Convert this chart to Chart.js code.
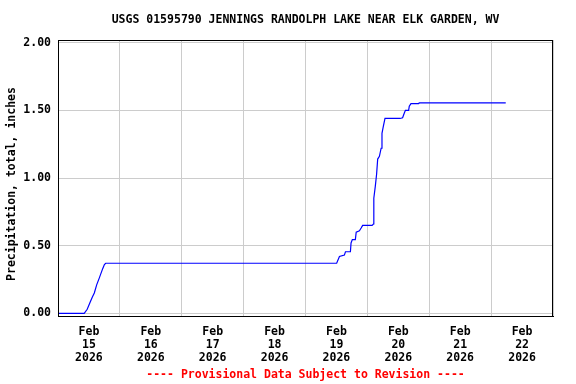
<!DOCTYPE html>
<html>
<head>
<meta charset="utf-8">
<script src="https://cdn.jsdelivr.net/npm/chart.js@4/dist/chart.umd.min.js"></script>
<style>
html,body{margin:0;padding:0;background:#fff;}
#wrap{width:576px;height:384px;position:relative;}
</style>
</head>
<body>
<div id="wrap"><canvas id="c" width="576" height="384"></canvas></div>
<script>
// ---- data ----
const chartTitle = 'USGS 01595790 JENNINGS RANDOLPH LAKE NEAR ELK GARDEN, WV';
const yAxisTitle = 'Precipitation, total, inches';
const footerText = '---- Provisional Data Subject to Revision ----';
const startTime = '2026-02-15T00:00';
const endTime = '2026-02-23T00:00';
const monthLabel = 'Feb';
const yearLabel = '2026';
const dayLabels = ['15','16','17','18','19','20','21','22'];
const yTickValues = [0, 0.5, 1.0, 1.5, 2.0];

const obsTimes = [
  '2026-02-15T00:00','2026-02-15T10:10','2026-02-15T11:20','2026-02-15T12:25',
  '2026-02-15T13:20','2026-02-15T14:05','2026-02-15T15:00','2026-02-15T16:00',
  '2026-02-15T17:20','2026-02-15T18:00','2026-02-15T18:30',
  '2026-02-19T12:05','2026-02-19T13:10','2026-02-19T15:05','2026-02-19T15:30',
  '2026-02-19T17:25','2026-02-19T17:40','2026-02-19T18:10','2026-02-19T19:20',
  '2026-02-19T19:40','2026-02-19T20:55','2026-02-19T21:35','2026-02-19T22:10',
  '2026-02-20T01:50','2026-02-20T02:20','2026-02-20T02:30','2026-02-20T03:05',
  '2026-02-20T03:35','2026-02-20T04:00','2026-02-20T04:40','2026-02-20T05:20',
  '2026-02-20T05:40','2026-02-20T06:10','2026-02-20T06:50','2026-02-20T12:40',
  '2026-02-20T13:40','2026-02-20T14:20','2026-02-20T14:45','2026-02-20T16:00',
  '2026-02-20T16:15','2026-02-20T16:55','2026-02-20T19:50','2026-02-20T20:10',
  '2026-02-22T05:40'
];
const precipValues = [
  0.00, 0.00, 0.03, 0.08,
  0.12, 0.15, 0.21, 0.26,
  0.33, 0.36, 0.37,
  0.37, 0.42, 0.43, 0.455,
  0.455, 0.52, 0.545, 0.545,
  0.60, 0.61, 0.63, 0.65,
  0.65, 0.66, 0.85, 0.94,
  1.03, 1.14, 1.16, 1.22,
  1.33, 1.38, 1.44, 1.44,
  1.445, 1.48, 1.50, 1.50,
  1.53, 1.55, 1.55, 1.555,
  1.555
];

// ---- build ----
const t0 = Date.parse(startTime + ':00Z');
const t1 = Date.parse(endTime + ':00Z');
const toDays = s => (Date.parse(s + ':00Z') - t0) / 86400000;
const spanDays = (t1 - t0) / 86400000;
const points = obsTimes.map((t, i) => ({x: toDays(t), y: precipValues[i]}));

const FONT = '"DejaVu Sans Mono", "Liberation Mono", monospace';
const TEXT_FONT = 'bold 11.5px ' + FONT;

const decorPlugin = {
  id: 'decor',
  afterDatasetsDraw(chart) {
    const a = chart.chartArea, ctx = chart.ctx;
    ctx.save();
    ctx.strokeStyle = '#000';
    ctx.lineWidth = 1;
    ctx.strokeRect(Math.round(a.left) + 0.5, Math.round(a.top) + 0.5,
                   Math.round(a.right - a.left) - 1, Math.round(a.bottom - a.top));
    const cx = (a.left + a.right) / 2;
    ctx.font = TEXT_FONT;
    ctx.textAlign = 'center';
    ctx.textBaseline = 'middle';
    ctx.fillStyle = '#000';
    ctx.fillText(chartTitle, cx, 20);
    ctx.fillStyle = '#ff0000';
    ctx.fillText(footerText, cx, 375);
    ctx.fillStyle = '#000';
    ctx.translate(12, 184);
    ctx.rotate(-Math.PI / 2);
    ctx.fillText(yAxisTitle, 0, 0);
    ctx.restore();
  }
};

new Chart(document.getElementById('c'), {
  type: 'line',
  data: {
    datasets: [{
      data: points,
      borderColor: '#0000ff',
      borderWidth: 1.2,
      pointRadius: 0,
      tension: 0,
      fill: false
    }]
  },
  options: {
    responsive: false,
    animation: false,
    devicePixelRatio: 1,
    layout: {padding: {left: 0, right: 23, top: 40, bottom: 18}},
    plugins: {
      legend: {display: false},
      tooltip: {enabled: false},
      title: {display: false},
      subtitle: {display: false}
    },
    scales: {
      x: {
        type: 'linear', min: 0, max: spanDays,
        afterBuildTicks(scale) {
          const t = [];
          for (let i = 0; i <= spanDays * 2; i++) t.push({value: i / 2});
          scale.ticks = t;
        },
        afterFit(scale) { scale.height = 50; },
        grid: {
          color: c => (c.tick && c.tick.value % 1 === 0) ? '#cccccc' : 'rgba(0,0,0,0)',
          lineWidth: 1, drawTicks: false
        },
        border: {display: true, color: '#000'},
        ticks: {
          autoSkip: false, maxRotation: 0, minRotation: 0, padding: 10, color: '#000',
          font: {family: FONT, size: 11.5, weight: 'bold', lineHeight: '13px'},
          callback(v) {
            if (v % 1 === 0.5) {
              const d = dayLabels[Math.floor(v)];
              return d ? [monthLabel, d, yearLabel] : '';
            }
            return '';
          }
        }
      },
      y: {
        type: 'linear', min: -0.02, max: 2.02,
        afterBuildTicks(scale) { scale.ticks = yTickValues.map(v => ({value: v})); },
        afterFit(scale) { scale.width = 58; },
        grid: {color: '#cccccc', lineWidth: 1, drawTicks: false},
        border: {display: true, color: '#000'},
        ticks: {
          padding: 7, color: '#000',
          font: {family: FONT, size: 11.5, weight: 'bold'},
          callback: v => v.toFixed(2)
        }
      }
    }
  },
  plugins: [decorPlugin]
});
</script>
</body>
</html>
